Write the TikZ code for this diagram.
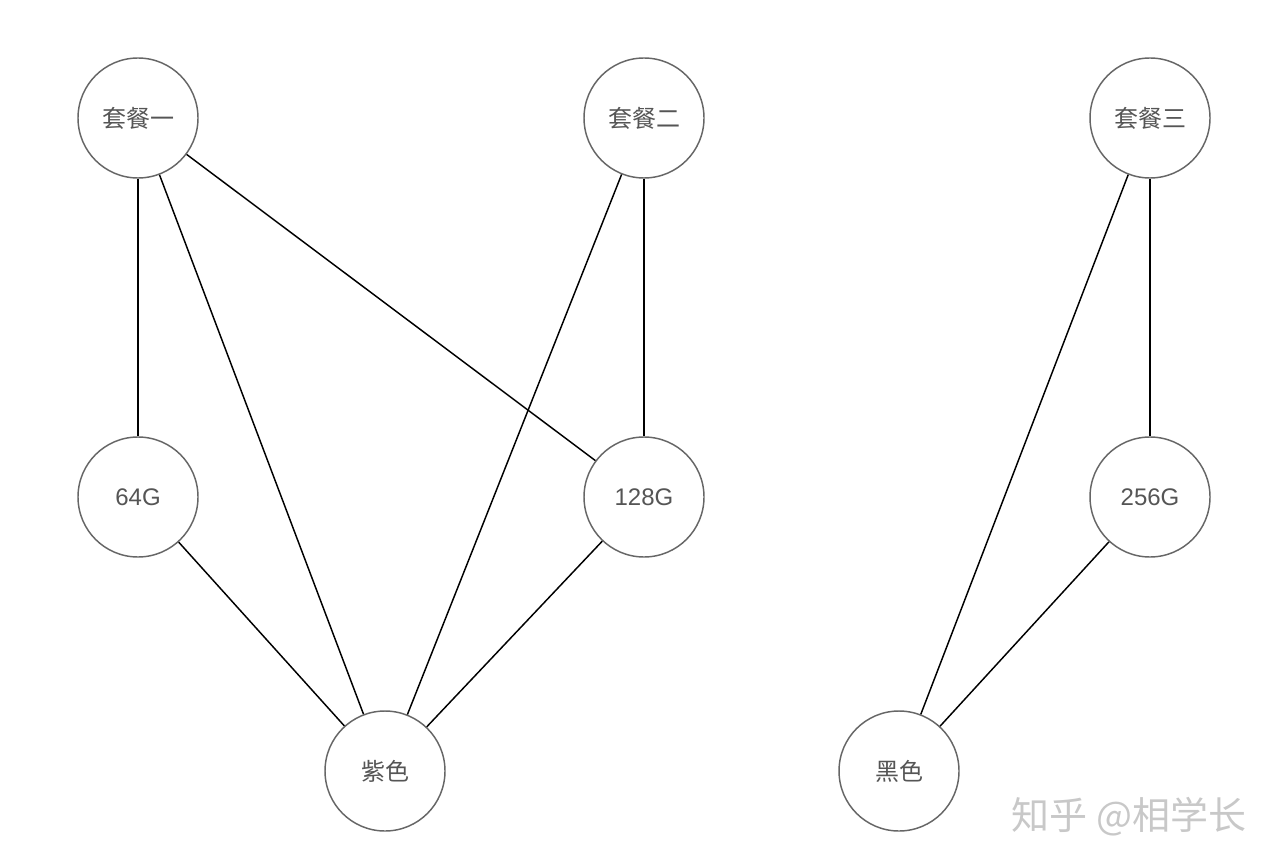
\documentclass[tikz,border=0pt]{standalone}
\usepackage{fontspec}
\setmainfont{Liberation Sans}
\newfontfamily\cjk{Noto Sans CJK SC}
\usetikzlibrary{positioning}
\definecolor{RingC}{HTML}{666666}
\definecolor{TextC}{HTML}{555555}
\definecolor{MarkC}{HTML}{C8C8C8}
\tikzset{
  opt/.style={draw=RingC, circle, line width=1.1pt, minimum size=90pt, inner sep=0pt, text=TextC, font=\fontsize{18}{21}\selectfont},
  link/.style={line width=1.1pt, black}
}

\begin{document}
\begin{tikzpicture}[x=0.75pt, y=-0.75pt]
  \useasboundingbox (0,0) rectangle (1280,866);

  \node[opt] (p1) at (138,118) {\cjk 套餐一};
  \node[opt] (p2) at (644,118) {\cjk 套餐二};
  \node[opt] (p3) at (1150,118) {\cjk 套餐三};

  \node[opt] (s64) at (138,497) {64G};
  \node[opt] (s128) at (644,497) {128G};
  \node[opt] (s256) at (1150,497) {256G};

  \node[opt] (purple) at (385,771) {\cjk 紫色};
  \node[opt] (black) at (899,771) {\cjk 黑色};

  \node[text=MarkC, font=\cjk\fontsize{28.5}{31}\selectfont] (mark) at (1129,817) {知乎 @相学长};

  \draw[link] (p1) -- (s64);
  \draw[link] (p1) -- (purple);
  \draw[link] (p1) -- (s128);
  \draw[link] (p2) -- (purple);
  \draw[link] (p2) -- (s128);
  \draw[link] (s64) -- (purple);
  \draw[link] (s128) -- (purple);
  \draw[link] (p3) -- (black);
  \draw[link] (p3) -- (s256);
  \draw[link] (s256) -- (black);
\end{tikzpicture}
\end{document}
